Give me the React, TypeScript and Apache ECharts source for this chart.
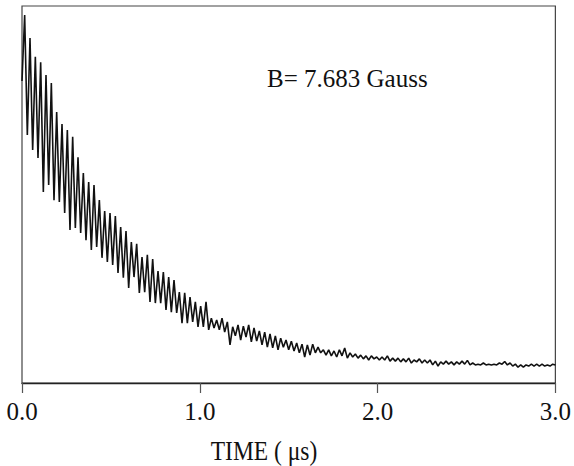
import React, { useEffect, useRef } from "react";
import * as echarts from "echarts";

// Sampling step of the recorded trace (μs): troughs at even samples, peaks at odd samples
const SAMPLE_STEP_US = 0.015;

// Signal (arbitrary units, 0 = bottom axis, 100 = top of frame)
const troughs = [
  80.1, 65.8, 61.8, 59.7, 50.7, 52.5, 48.5, 48.0, 45.1, 40.6,
  41.1, 39.8, 37.9, 35.3, 36.1, 33.2, 32.1, 31.3, 29.2, 27.9,
  25.2, 28.1, 23.9, 24.1, 21.5, 21.2, 21.2, 19.4, 18.8, 18.6,
  15.9, 15.9, 16.2, 14.9, 14.9, 14.1, 14.6, 14.1, 13.5, 10.1,
  12.5, 11.4, 12.2, 10.9, 11.1, 10.1, 9.5, 9.3, 8.8, 9.5,
  8.8, 8.5, 8.0, 6.9, 7.4, 8.0, 8.0, 7.4, 7.2, 6.9,
  7.2, 6.6, 6.9, 6.6, 6.4, 6.1, 6.4, 6.1, 6.1, 5.8,
  5.8, 5.6, 5.6, 5.3, 5.6, 5.3, 5.3, 4.8, 4.5, 5.0,
  5.0, 4.8, 5.0, 5.0, 4.8, 4.8, 4.8, 4.8, 4.8, 4.8,
  5.0, 4.8, 4.5, 4.2, 4.2, 4.5, 4.5, 4.5, 4.5, 4.5,
  4.8,
];

const peaks = [
  97.6, 91.5, 86.5, 85.1, 81.7, 79.6, 71.9, 68.7, 67.1, 65.3,
  59.9, 55.7, 53.3, 52.5, 48.5, 45.6, 45.1, 44.3, 41.4, 40.3,
  37.4, 36.9, 33.4, 34.0, 32.9, 29.7, 29.4, 28.1, 27.3, 24.1,
  23.9, 22.8, 21.5, 20.4, 21.5, 17.2, 16.7, 17.2, 16.2, 14.9,
  15.4, 15.1, 15.4, 14.6, 13.8, 13.5, 13.0, 12.5, 11.9, 11.4,
  11.1, 10.6, 10.3, 10.1, 10.3, 9.5, 8.8, 8.8, 8.5, 8.8,
  9.3, 8.0, 7.7, 7.4, 7.2, 7.2, 6.9, 6.9, 7.2, 6.6,
  6.6, 6.4, 6.6, 6.1, 6.4, 6.1, 6.1, 5.8, 5.6, 5.8,
  5.6, 5.6, 5.8, 6.0, 5.3, 5.0, 5.3, 5.0, 5.0, 5.3,
  5.7, 5.3, 5.0, 4.8, 4.8, 5.0, 5.0, 5.0, 4.8, 5.0,
];

const X_MIN = 0;
const X_MAX = 3;
const X_INTERVAL = 1;
const fieldLabel = "B= 7.683 Gauss";
const xTitle = "TIME ( μs)";

function buildTrace(): [number, number][] {
  const out: [number, number][] = [];
  for (let k = 0; k < troughs.length; k++) {
    out.push([+(2 * k * SAMPLE_STEP_US).toFixed(4), troughs[k]]);
    if (k < peaks.length) {
      out.push([+((2 * k + 1) * SAMPLE_STEP_US).toFixed(4), peaks[k]]);
    }
  }
  return out;
}

const SERIF = "Liberation Serif";

export default function App() {
  const ref = useRef<HTMLDivElement>(null);
  useEffect(() => {
    if (!ref.current) return;
    const chart = echarts.init(ref.current, undefined, { renderer: "svg" });
    chart.setOption({
      animation: false,
      backgroundColor: "#ffffff",
      grid: {
        left: 22,
        right: 15,
        top: 6,
        bottom: 83,
        show: true,
        borderColor: "#444",
        borderWidth: 1.2,
      },
      xAxis: {
        type: "value",
        min: X_MIN,
        max: X_MAX,
        interval: X_INTERVAL,
        axisLine: { show: true, lineStyle: { color: "#222", width: 1.3 } },
        axisTick: { show: true, length: 10, lineStyle: { color: "#555", width: 1.2 } },
        axisLabel: {
          margin: 16,
          showMinLabel: true,
          showMaxLabel: true,
          formatter: (v: number) => v.toFixed(1),
          fontFamily: SERIF,
          fontSize: 25,
          color: "#111",
        },
        splitLine: { show: false },
      },
      yAxis: {
        type: "value",
        min: 0,
        max: 100,
        show: false,
        splitLine: { show: false },
      },
      series: [
        {
          type: "line",
          data: buildTrace(),
          showSymbol: false,
          symbol: "none",
          silent: true,
          lineStyle: { color: "#111", width: 1.6 },
        },
      ],
      graphic: [
        {
          type: "text",
          x: 267,
          y: 78,
          style: {
            text: fieldLabel,
            font: `25px "${SERIF}"`,
            fill: "#111",
            align: "left",
            verticalAlign: "middle",
          },
        },
        {
          type: "text",
          x: 264,
          y: 450,
          scaleX: 0.87,
          style: {
            text: xTitle,
            font: `27px "${SERIF}"`,
            fill: "#111",
            align: "center",
            verticalAlign: "middle",
          },
        },
      ],
    });
    return () => chart.dispose();
  }, []);
  return (
    <div
      ref={ref}
      style={{ position: "absolute", left: 0, top: 0, width: 574, height: 466 }}
    />
  );
}
